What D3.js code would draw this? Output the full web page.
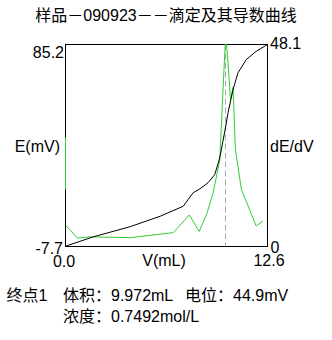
<!DOCTYPE html>
<html>
<head>
<meta charset="utf-8">
<script src="https://cdn.jsdelivr.net/npm/d3@7"></script>
<style>
  body { margin: 0; background: #fff; }
  svg text { font-family: "Liberation Sans", Arial, "Noto Sans CJK SC", sans-serif; font-size: 16px; fill: #000; }
</style>
</head>
<body>
<div id="chart"></div>
<script>
// titration curve E(V) and its derivative dE/dV
var volE = [0, 0, 0.1, 1.76, 4.03, 5.90, 7.34, 7.96, 8.38, 8.89, 9.31, 9.62, 9.93, 10.14, 10.45, 10.76, 11.28, 11.90, 12.6]
var potE = [18.5, -7.7, -7.3, -3.2, 1.4, 6.2, 10.8, 17.0, 18.8, 21.6, 25.4, 33.0, 45.0, 53.8, 64.5, 72.2, 78.3, 82.1, 85.2]
var volD = [0, 0, 0.31, 0.73, 1.55, 4.03, 6.72, 7.72, 8.34, 8.80, 9.21, 9.62, 9.96, 10.04, 10.14, 10.29, 10.45, 10.60, 10.97, 11.48, 11.89, 12.31]
var dEdV = [26, 5, 3.9, 2.0, 2.3, 2.1, 3.3, 7.5, 3.6, 7.6, 12.8, 20.5, 48.1, 48.1, 43.7, 35.0, 37.9, 23.1, 13.6, 8.8, 4.9, 6.0]
var xTicks = [0, 12.6]
var eTicks = [85.2, -7.7]
var dTicks = [48.1, 0]
var endVol = 9.972

var title = "样品－090923－－滴定及其导数曲线"
var info1a = "终点1"
var info1b = "体积：9.972mL"
var info1c = "电位：44.9mV"
var info2 = "浓度：0.7492mol/L"

var width = 332, height = 340
var margin = ({ top: 44.5, right: 64.5, bottom: 93.5, left: 65.5 })

var svg = d3.select("#chart").append("svg")
    .attr("width", width)
    .attr("height", height)

var x = d3.scaleLinear()
    .domain([0, 12.6])
    .range([margin.left, width - margin.right])
var yE = d3.scaleLinear()
    .domain([-7.7, 85.2])
    .range([height - margin.bottom, margin.top])
var yD = d3.scaleLinear()
    .domain([0, 48.1])
    .range([height - margin.bottom, margin.top])

// frame
svg.append("rect")
    .attr("x", x(0))
    .attr("y", yE(85.2))
    .attr("width", x(12.6) - x(0))
    .attr("height", yE(-7.7) - yE(85.2))
    .attr("fill", "none")
    .attr("stroke", "#000")

// end point marker
svg.append("line")
    .attr("x1", Math.round(x(endVol)) + 0.5)
    .attr("x2", Math.round(x(endVol)) + 0.5)
    .attr("y1", yD(48.1))
    .attr("y2", yD(0))
    .attr("stroke", "#a8a8a8")
    .attr("stroke-dasharray", "6,3")

var lineD = d3.line()
    .x((d, i) => x(volD[i]))
    .y(d => yD(d))
svg.append("path")
    .attr("d", lineD(dEdV))
    .attr("fill", "none")
    .attr("stroke", "#33cc33")
    .attr("stroke-width", 1)

var lineE = d3.line()
    .x((d, i) => x(volE[i]))
    .y(d => yE(d))
svg.append("path")
    .attr("d", lineE(potE))
    .attr("fill", "none")
    .attr("stroke", "#000")
    .attr("stroke-width", 1)

// tick labels
svg.append("text").attr("x", margin.left - 1.5).attr("y", yE(eTicks[0]) + 13)
    .attr("text-anchor", "end").text(eTicks[0].toFixed(1))
svg.append("text").attr("x", margin.left - 2.5).attr("y", yE(eTicks[1]) + 7)
    .attr("text-anchor", "end").text(eTicks[1].toFixed(1))
svg.append("text").attr("x", width - margin.right + 2.5).attr("y", yD(dTicks[0]) + 4.5)
    .text(dTicks[0].toFixed(1))
svg.append("text").attr("x", width - margin.right + 3).attr("y", yD(dTicks[1]) + 6)
    .text(dTicks[1])
svg.append("text").attr("x", x(xTicks[0]) - 1.5).attr("y", height - margin.bottom + 20)
    .attr("text-anchor", "middle").text(xTicks[0].toFixed(1))
svg.append("text").attr("x", x(xTicks[1]) + 1.5).attr("y", height - margin.bottom + 19.5)
    .attr("text-anchor", "middle").text(xTicks[1].toFixed(1))

// axis names
svg.append("text").attr("x", 164).attr("y", height - margin.bottom + 19.5)
    .attr("text-anchor", "middle").text("V(mL)")
svg.append("text").attr("x", 60).attr("y", 151.5)
    .attr("text-anchor", "end").text("E(mV)")
svg.append("text").attr("x", 270).attr("y", 151.5).text("dE/dV")

// title and results
svg.append("text").attr("x", 166).attr("y", 21)
    .attr("text-anchor", "middle").text(title)
svg.append("text").attr("x", 6.5).attr("y", 301).text(info1a)
svg.append("text").attr("x", 63).attr("y", 301).text(info1b)
svg.append("text").attr("x", 185).attr("y", 301).text(info1c)
svg.append("text").attr("x", 63).attr("y", 322).text(info2)
</script>
</body>
</html>
